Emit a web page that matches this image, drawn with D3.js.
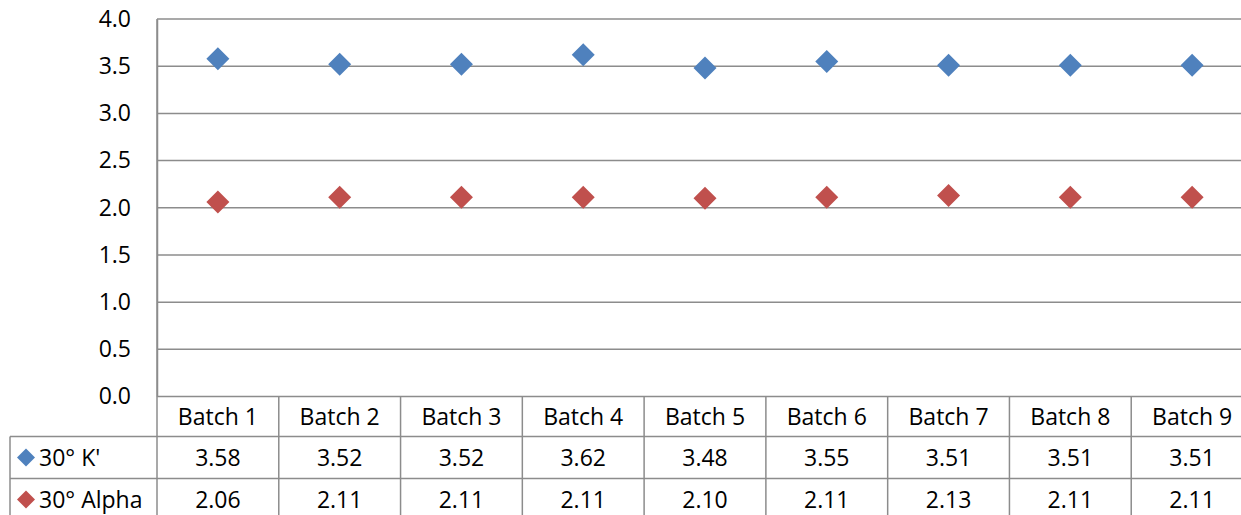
<!DOCTYPE html>
<html>
<head>
<meta charset="utf-8">
<script src="https://cdn.jsdelivr.net/npm/d3@7"></script>
<style>
  body { margin: 0; background: #fff; }
  svg { display: block; font-family: "Open Sans", sans-serif; }
</style>
</head>
<body>
<svg width="1241" height="515"></svg>
<script>
(function() {
  'use strict';

var batches = ["Batch 1", "Batch 2", "Batch 3", "Batch 4", "Batch 5", "Batch 6", "Batch 7", "Batch 8", "Batch 9"];
var kPrime  = [3.58, 3.52, 3.52, 3.62, 3.48, 3.55, 3.51, 3.51, 3.51];
var alpha   = [2.06, 2.11, 2.11, 2.11, 2.10, 2.11, 2.13, 2.11, 2.11];
var seriesNames  = ["30\u00b0 K'", "30\u00b0 Alpha"];
var seriesColors = ["#4f81bd", "#c0504d"];
var yTicks = [0, 0.5, 1, 1.5, 2, 2.5, 3, 3.5, 4];

var series = [kPrime, alpha];
var gridColor = "#8c8c8c";
var fs = 23;

var svg = d3.select("svg");
var left = 157, right = 1253, top = 19, bottom = 396.5;
var rowH = [40, 42, 42];
var tableLeft = 10;

var x = d3.scaleBand().domain(batches).range([left, right]);
var y = d3.scaleLinear().domain([0, 4]).range([bottom, top]);

// gridlines
svg.append("g")
   .selectAll("line")
   .data(yTicks)
   .enter().append("line")
   .attr("x1", left).attr("x2", right)
   .attr("y1", function(d) { return y(d); })
   .attr("y2", function(d) { return y(d); })
   .attr("stroke", gridColor)
   .attr("stroke-width", 1.5);

// y axis
var yAxis = svg.append("g")
   .attr("transform", "translate(" + left + ",0)")
   .call(d3.axisLeft(y).tickValues(yTicks).tickFormat(d3.format(".1f")).tickSize(0).tickPadding(26));
yAxis.attr("font-family", null).attr("font-size", null);
yAxis.select(".domain").attr("stroke", gridColor).attr("stroke-width", 1.5);
yAxis.selectAll("text").attr("font-size", fs).attr("fill", "#000");

// table lines
var rowY = [bottom, bottom + rowH[0], bottom + rowH[0] + rowH[1], bottom + rowH[0] + rowH[1] + rowH[2]];
var tbl = svg.append("g").attr("stroke", gridColor).attr("stroke-width", 1.5);
tbl.append("line").attr("x1", left).attr("x2", left).attr("y1", top).attr("y2", 515);
tbl.selectAll(".vline")
   .data(batches)
   .enter().append("line")
   .attr("x1", function(d) { return x(d) + x.bandwidth(); })
   .attr("x2", function(d) { return x(d) + x.bandwidth(); })
   .attr("y1", bottom).attr("y2", 515);
tbl.append("line").attr("x1", tableLeft).attr("x2", tableLeft).attr("y1", rowY[1]).attr("y2", 515);
tbl.selectAll(".hline")
   .data([rowY[1], rowY[2]])
   .enter().append("line")
   .attr("x1", tableLeft).attr("x2", right)
   .attr("y1", function(d) { return d; })
   .attr("y2", function(d) { return d; });

// header row
svg.append("g")
   .selectAll("text")
   .data(batches)
   .enter().append("text")
   .attr("x", function(d) { return x(d) + x.bandwidth() / 2; })
   .attr("y", rowY[0] + rowH[0] / 2)
   .attr("dy", "0.36em")
   .attr("text-anchor", "middle")
   .attr("font-size", fs)
   .text(function(d) { return d; });

function diamond(s) {
  return "M0," + (-s) + "L" + s + ",0L0," + s + "L" + (-s) + ",0Z";
}

// value rows
series.forEach(function(vals, si) {
  var cy = rowY[si + 1] + rowH[si + 1] / 2;
  var g = svg.append("g");
  g.selectAll("text")
   .data(vals)
   .enter().append("text")
   .attr("x", function(d, i) { return x(batches[i]) + x.bandwidth() / 2; })
   .attr("y", cy)
   .attr("dy", "0.36em")
   .attr("text-anchor", "middle")
   .attr("font-size", fs)
   .text(function(d) { return d3.format(".2f")(d); });
  g.append("path")
   .attr("d", diamond(9))
   .attr("transform", "translate(26," + cy + ")")
   .attr("fill", seriesColors[si]);
  g.append("text")
   .attr("x", 39).attr("y", cy)
   .attr("dy", "0.36em")
   .attr("font-size", fs)
   .text(seriesNames[si]);

  // markers
  svg.append("g")
     .selectAll("path")
     .data(vals)
     .enter().append("path")
     .attr("d", diamond(11.5))
     .attr("transform", function(d, i) {
        return "translate(" + (x(batches[i]) + x.bandwidth() / 2) + "," + y(d) + ")";
     })
     .attr("fill", seriesColors[si]);
});

})();
</script>
</body>
</html>
